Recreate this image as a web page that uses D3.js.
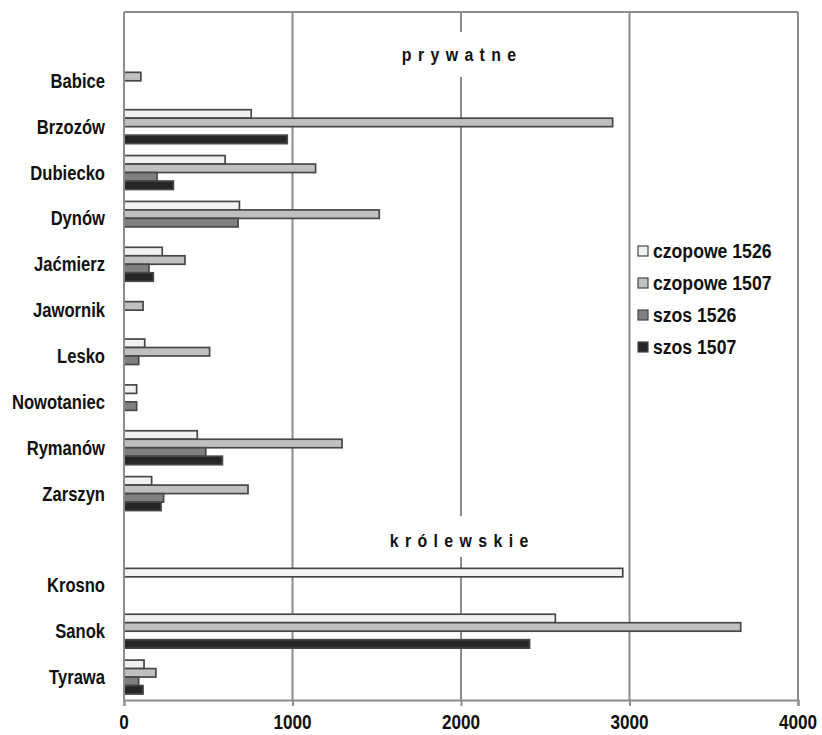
<!DOCTYPE html>
<html>
<head>
<meta charset="utf-8">
<script src="https://cdn.jsdelivr.net/npm/d3@7"></script>
<style>
  body { margin: 0; background: #fff; }
  svg { display: block; }
  text { font-family: "Liberation Sans", Arial, sans-serif; fill: #111; }
</style>
</head>
<body>
<svg id="chart" width="822" height="735"></svg>
<script>
// ---- data ----
const groupLabels = ["prywatne", "królewskie"];
const privateTowns = ["Babice", "Brzozów", "Dubiecko", "Dynów", "Jaćmierz", "Jawornik", "Lesko", "Nowotaniec", "Rymanów", "Zarszyn"];
const royalTowns = ["Krosno", "Sanok", "Tyrawa"];
const categories = privateTowns.concat(royalTowns);
const seriesNames = ["czopowe 1526", "czopowe 1507", "szos 1526", "szos 1507"];
const seriesColors = ["#f1f1f1", "#c0c0c0", "#808080", "#262626"];
// values in category order (null = no bar)
const czopowe1526 = [null, 755, 600, 685, 227, null, 123, 75, 435, 164, 2960, 2560, 119];
const czopowe1507 = [100, 2900, 1137, 1515, 362, 113, 508, null, 1294, 736, null, 3660, 189];
const szos1526    = [null, null, 196, 677, 148, null, 87, 75, 485, 235, null, null, 87];
const szos1507    = [null, 969, 293, null, 174, null, null, null, 584, 220, null, 2407, 113];
const seriesValues = [czopowe1526, czopowe1507, szos1526, szos1507];
const xTicks = [0, 1000, 2000, 3000, 4000];

// ---- layout ----
const svg = d3.select("#chart");
const m = { left: 124, right: 798, top: 12, bottom: 700 };
const gridColor = "#8c8c8c";

// draws condensed text: group translated to (x,y) and squeezed horizontally
function ctext(parent, x, y, str, opts) {
  const g = parent.append("g").attr("transform", `translate(${x},${y}) scale(${opts.sx},1)`);
  const t = g.append("text").attr("x", 0).attr("y", 0)
    .attr("text-anchor", opts.anchor || "start").attr("dominant-baseline", "central")
    .style("font-size", opts.size + "px")
    .style("font-weight", opts.weight || "bold")
    .text(str);
  if (opts.spacing) t.style("letter-spacing", opts.spacing + "px");
  return t;
}

// slots: header slot + private towns + header slot + royal towns
const slots = ["#" + groupLabels[0]].concat(privateTowns, ["#" + groupLabels[1]], royalTowns);

const x = d3.scaleLinear().domain([0, 4000]).range([m.left, m.right]);
const y = d3.scaleBand().domain(slots).range([m.top, m.bottom]).paddingInner(0.26).paddingOuter(0.13);
const ySub = d3.scaleBand().domain(seriesNames).range([0, y.bandwidth()]);

// gridlines
svg.append("g").selectAll("line").data(xTicks.slice(1)).join("line")
  .attr("x1", d => x(d)).attr("x2", d => x(d))
  .attr("y1", m.top).attr("y2", m.bottom)
  .attr("stroke", gridColor).attr("stroke-width", 2);
// top border
svg.append("line").attr("x1", m.left).attr("x2", m.right).attr("y1", m.top).attr("y2", m.top)
  .attr("stroke", gridColor).attr("stroke-width", 2);

// group header labels with white backgrounds
const headerY = [55, y("#" + groupLabels[1]) + y.bandwidth() / 2 + 1];
const headerBox = [[32, 77], [516, 557]];
const hdrSpacing = 7.4, hdrSX = 0.86;
groupLabels.forEach((g, i) => {
  svg.append("rect").attr("x", x(2000) - 75).attr("width", 150)
    .attr("y", headerBox[i][0]).attr("height", headerBox[i][1] - headerBox[i][0]).attr("fill", "#fff");
  ctext(svg, x(2000) - 2 + hdrSpacing * hdrSX / 2, headerY[i], g,
    { anchor: "middle", size: 18.5, sx: hdrSX, spacing: hdrSpacing });
});

// bars
const barData = [];
categories.forEach((c, ci) => {
  seriesNames.forEach((s, si) => {
    const v = seriesValues[si][ci];
    if (v != null) barData.push({ c, s, si, v });
  });
});
svg.append("g").selectAll("rect").data(barData).join("rect")
  .attr("x", x(0))
  .attr("y", d => y(d.c) + ySub(d.s))
  .attr("width", d => x(d.v) - x(0))
  .attr("height", ySub.bandwidth())
  .attr("fill", d => seriesColors[d.si])
  .attr("stroke", "#474747").attr("stroke-width", 1.7);

// y axis line
svg.append("line").attr("x1", m.left).attr("x2", m.left).attr("y1", m.top).attr("y2", m.bottom)
  .attr("stroke", gridColor).attr("stroke-width", 2);

// category labels
const catG = svg.append("g");
categories.forEach(c => {
  ctext(catG, 105, y(c) + y.bandwidth() / 2, c, { anchor: "end", size: 20, sx: 0.83 });
});

// x axis
const xAxis = d3.axisBottom(x).tickValues(xTicks).tickSize(6).tickFormat(d3.format("d"));
const gx = svg.append("g").attr("transform", `translate(0,${m.bottom})`).call(xAxis);
gx.select(".domain").attr("stroke", gridColor).attr("stroke-width", 2);
gx.selectAll(".tick line").attr("stroke", gridColor).attr("stroke-width", 2);
gx.selectAll(".tick text").remove();
xTicks.forEach(t => {
  ctext(svg, x(t), 722, d3.format("d")(t), { anchor: "middle", size: 20, sx: 0.86 });
});

// legend
const legX = 638, legY0 = 251, legStep = 32;
svg.append("rect").attr("x", 631).attr("y", 234).attr("width", 150).attr("height", 131).attr("fill", "#fff");
const leg = svg.append("g").selectAll("g").data(seriesNames).join("g")
  .attr("transform", (d, i) => `translate(${legX},${legY0 + i * legStep})`);
leg.append("rect").attr("x", 0).attr("y", -5).attr("width", 10).attr("height", 10)
  .attr("fill", (d, i) => seriesColors[i]).attr("stroke", "#474747").attr("stroke-width", 1.2);
leg.each(function(d) {
  ctext(d3.select(this), 15, 0, d, { anchor: "start", size: 20.5, sx: 0.86 });
});
</script>
</body>
</html>
